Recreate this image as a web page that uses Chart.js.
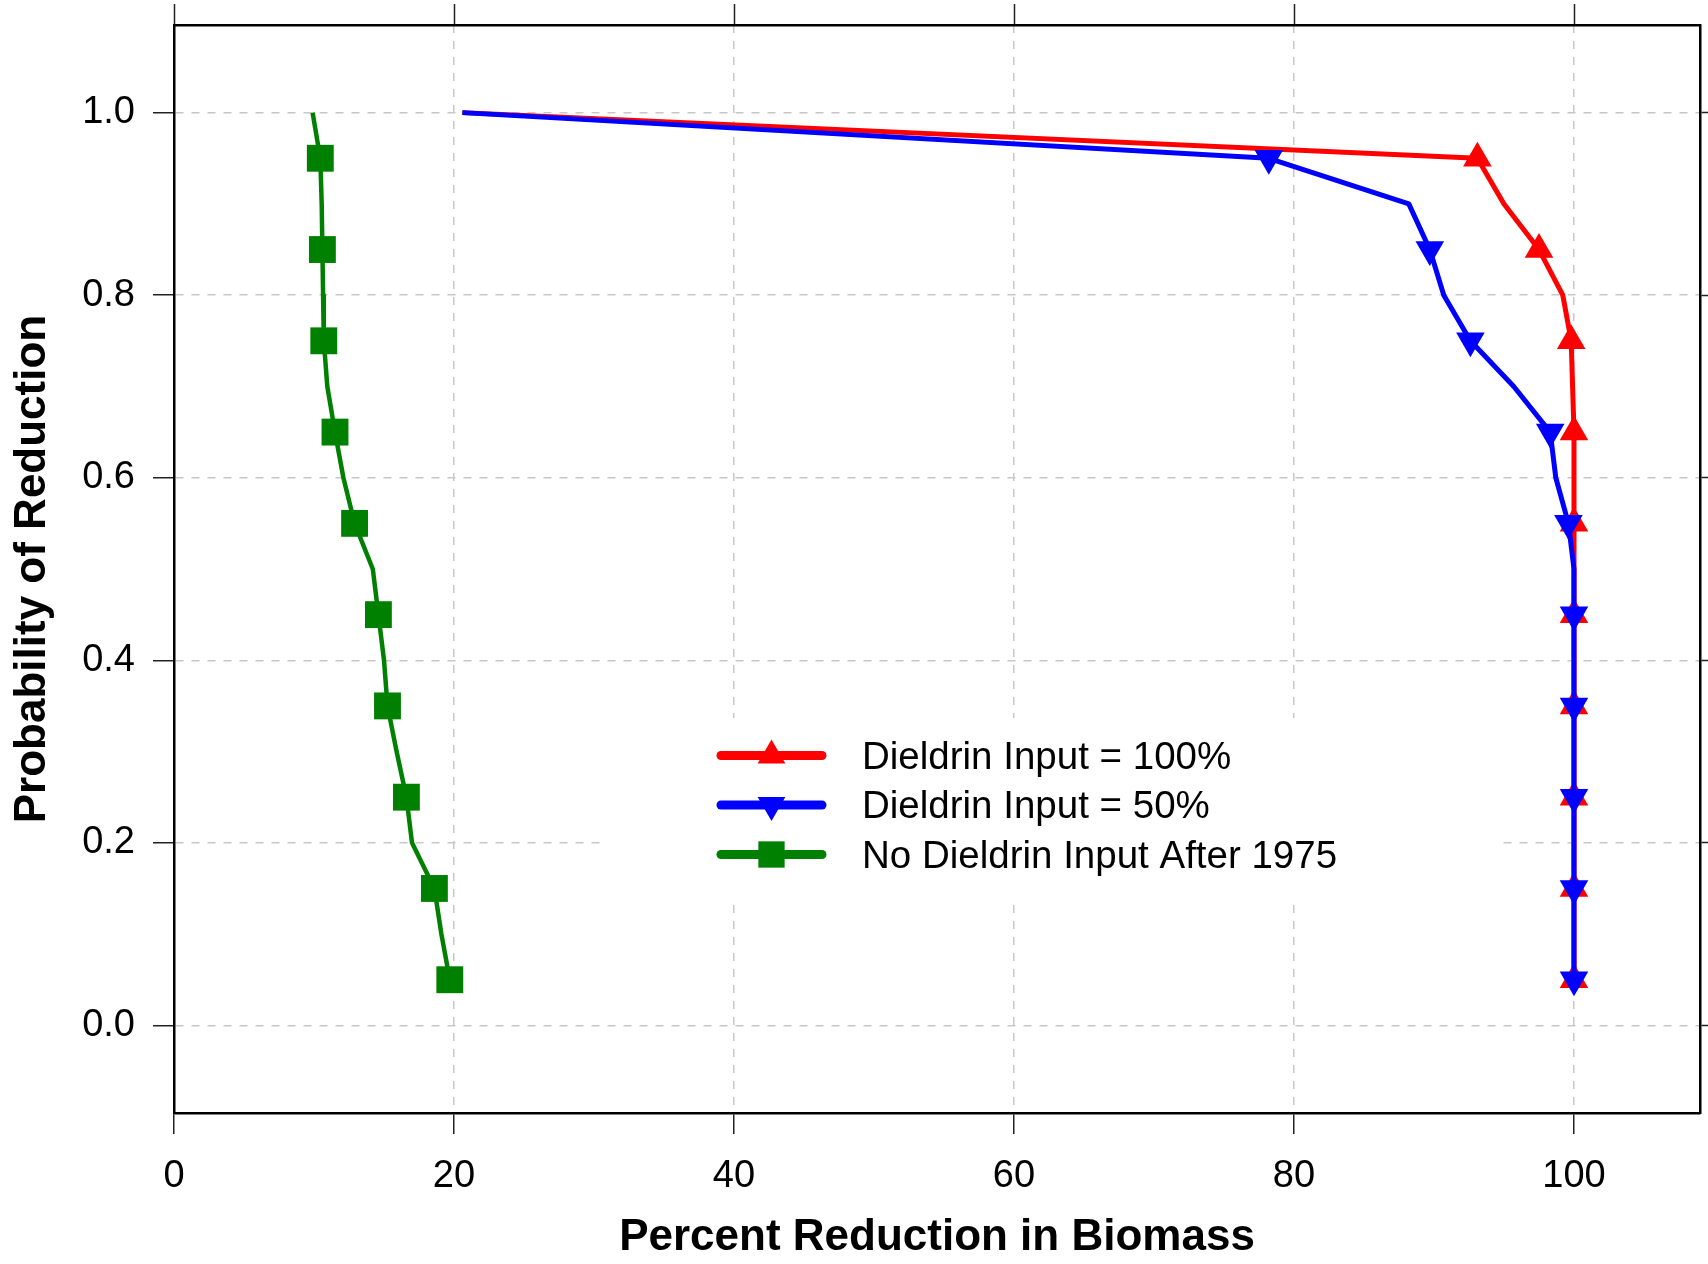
<!DOCTYPE html>
<html>
<head>
<meta charset="utf-8">
<script src="https://cdn.jsdelivr.net/npm/chart.js@4.4.1/dist/chart.umd.min.js"></script>
<style>
html,body{margin:0;padding:0;background:#ffffff;}
canvas{display:block;}
</style>
</head>
<body>
<canvas id="c" width="1708" height="1264"></canvas>
<script>
// ---- data ----
const probLevels = [1.00,0.95,0.90,0.85,0.80,0.75,0.70,0.65,0.60,0.55,0.50,0.45,0.40,0.35,0.30,0.25,0.20,0.15,0.10,0.05];
const markerLevels = [0.95,0.85,0.75,0.65,0.55,0.45,0.35,0.25,0.15,0.05];
const reduction100 = [20.6,93.1,95.0,97.5,99.2,99.8,99.9,100,100,100,100,100,100,100,100,100,100,100,100,100];
const reduction50  = [20.6,78.2,88.2,89.7,90.7,92.6,95.7,98.3,98.7,99.6,100,100,100,100,100,100,100,100,100,100];
const reductionNone = [9.9,10.45,10.55,10.6,10.65,10.7,10.95,11.5,12.1,12.9,14.2,14.6,15.0,15.25,15.9,16.6,17.0,18.6,19.1,19.7];
const seriesLabels = ['Dieldrin Input = 100%','Dieldrin Input = 50%','No Dieldrin Input After 1975'];
const xTicks = [0,20,40,60,80,100];
const yTicks = [0.0,0.2,0.4,0.6,0.8,1.0];
const xTitle = 'Percent Reduction in Biomass';
const yTitle = 'Probability of Reduction';

const FONT = '"Liberation Sans", Arial, Helvetica, sans-serif';
Chart.defaults.font.family = FONT;
Chart.defaults.color = '#000';

function toPoints(xs){ return xs.map((x,i)=>({x:x, y:probLevels[i]})); }
function markerRadius(r){ return ctx => (ctx.raw && markerLevels.includes(ctx.raw.y)) ? r : 0; }

const X_MIN = 0, X_MAX = 109, Y_MIN = -0.096, Y_MAX = 1.096;
const GRID = '#c8c8c8';

function setTicks(list){ return s => { s.ticks = list.map(v => ({value:v})); }; }
function fixSize(prop, val){
  return s => {
    s[prop] = val;
    s.paddingTop = 0; s.paddingBottom = 0; s.paddingLeft = 0; s.paddingRight = 0;
  };
}

const legendPlugin = {
  id: 'boxLegend',
  beforeDatasetsDraw(chart){
    const ctx = chart.ctx;
    ctx.save();
    ctx.fillStyle = '#ffffff';
    ctx.fillRect(605, 718, 893, 184);
    chart.data.datasets.forEach((ds, i) => {
      const y = 755.5 + i * 49.5;
      ctx.strokeStyle = ds.borderColor;
      ctx.lineWidth = 9;
      ctx.lineCap = 'round';
      ctx.beginPath();
      ctx.moveTo(721, y);
      ctx.lineTo(822, y);
      ctx.stroke();
      ctx.fillStyle = ds.backgroundColor;
      Chart.helpers.drawPoint(ctx, {pointStyle: ds.pointStyle, rotation: ds.pointRotation, radius: ds.legendRadius, borderWidth: 0}, 771.5, y);
      ctx.fillStyle = '#000';
      ctx.font = '38.5px ' + FONT;
      ctx.textBaseline = 'alphabetic';
      ctx.textAlign = 'left';
      ctx.fillText(ds.label, 862, y + 13);
    });
    ctx.restore();
  }
};

const borderOpts = {display:true, color:'#000', width:2.5, dash:[8,8], z:1};

new Chart(document.getElementById('c'), {
  type: 'scatter',
  data: {
    datasets: [
      {label: seriesLabels[0], data: toPoints(reduction100), borderColor:'#ff0000', backgroundColor:'#ff0000',
       borderWidth:5, showLine:true, pointStyle:'triangle', pointRotation:0, pointRadius: markerRadius(16.5),
       pointBorderWidth:0, legendRadius:16, order:2},
      {label: seriesLabels[1], data: toPoints(reduction50), borderColor:'#0000ff', backgroundColor:'#0000ff',
       borderWidth:5, showLine:true, pointStyle:'triangle', pointRotation:180, pointRadius: markerRadius(16.5),
       pointBorderWidth:0, legendRadius:16, order:1},
      {label: seriesLabels[2], data: toPoints(reductionNone), borderColor:'#008000', backgroundColor:'#008000',
       borderWidth:4.5, showLine:true, pointStyle:'rect', pointRadius: markerRadius(19),
       pointBorderWidth:0, legendRadius:18.6, order:0}
    ]
  },
  options: {
    responsive: false,
    animation: false,
    events: [],
    layout: {padding: 0, autoPadding: false},
    plugins: {legend:{display:false}, tooltip:{enabled:false}},
    elements: {line:{tension:0, borderJoinStyle:'round'}},
    scales: {
      x: {
        type:'linear', position:'bottom', min:X_MIN, max:X_MAX,
        afterBuildTicks: setTicks(xTicks),
        afterFit: fixSize('height', 151),
        ticks: {color:'#000', font:{size:38}, padding:20, maxRotation:0, autoSkip:false, callback: v => String(v)},
        grid: {color: c => (c.tick && c.tick.value === 0) ? 'rgba(0,0,0,0)' : GRID, lineWidth:1.5, tickLength:21, tickColor:'#222', tickWidth:1.5},
        border: borderOpts,
        title: {display:true, text:xTitle, color:'#000', font:{size:44, weight:'bold', lineHeight:1}, padding:{top:0, bottom:4}}
      },
      xTop: {
        type:'linear', position:'top', min:X_MIN, max:X_MAX,
        afterBuildTicks: setTicks(xTicks),
        afterFit: fixSize('height', 25),
        ticks: {display:false},
        grid: {drawOnChartArea:false, tickLength:21, tickColor:'#222', tickWidth:1.5},
        border: borderOpts
      },
      y: {
        type:'linear', position:'left', min:Y_MIN, max:Y_MAX,
        afterBuildTicks: setTicks(yTicks),
        afterFit: fixSize('width', 174),
        ticks: {color:'#000', font:{size:38}, padding:18, callback: v => Number(v).toFixed(1)},
        grid: {color: GRID, lineWidth:1.5, tickLength:21, tickColor:'#222', tickWidth:1.5},
        border: borderOpts,
        title: {display:true, text:yTitle, color:'#000', font:{size:44, weight:'bold', lineHeight:1}, padding:{top:11, bottom:0}}
      },
      yRight: {
        type:'linear', position:'right', min:Y_MIN, max:Y_MAX,
        afterBuildTicks: setTicks(yTicks),
        afterFit: fixSize('width', 8),
        ticks: {display:false},
        grid: {drawOnChartArea:false, tickLength:21, tickColor:'#222', tickWidth:1.5},
        border: borderOpts
      }
    }
  },
  plugins: [legendPlugin]
});
</script>
</body>
</html>
